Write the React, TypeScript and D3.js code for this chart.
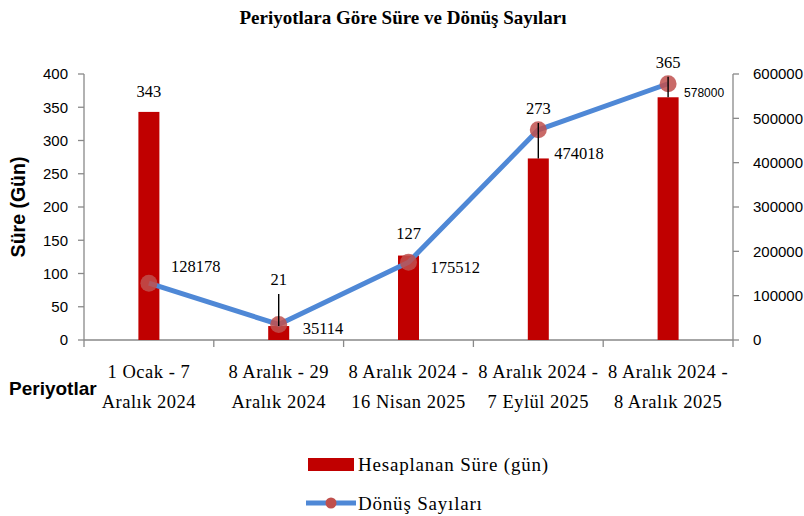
import React from "react";
import * as d3 from "d3";

const categories: string[][] = [
  ["1 Ocak - 7", "Aralık 2024"],
  ["8 Aralık - 29", "Aralık 2024"],
  ["8 Aralık 2024 -", "16 Nisan 2025"],
  ["8 Aralık 2024 -", "7 Eylül 2025"],
  ["8 Aralık 2024 -", "8 Aralık 2025"],
];
const sureValues = [343, 21, 127, 273, 365];
const donusValues = [128178, 35114, 175512, 474018, 578000];
const leftTicks = [0, 50, 100, 150, 200, 250, 300, 350, 400];
const rightTicks = [0, 100000, 200000, 300000, 400000, 500000, 600000];

const W = 804;
const H = 516;
const X0 = 84;
const X1 = 733;
const YT = 74;
const YB = 340;

const serif = "'Liberation Serif', 'DejaVu Serif', serif";
const sans = "'Liberation Sans', 'Open Sans', sans-serif";

export default function App() {
  const x = d3.scaleBand<number>().domain(d3.range(categories.length)).range([X0, X1]);
  const yL = d3.scaleLinear().domain([0, 400]).range([YB, YT]);
  const yR = d3.scaleLinear().domain([0, 600000]).range([YB, YT]);
  const cx = (i: number) => (x(i) as number) + x.bandwidth() / 2;
  const barW = 21;
  const line = d3
    .line<number>()
    .x((_, i) => cx(i))
    .y((d) => yR(d));
  const axisColor = "#898989";

  // label center offsets relative to bar top
  const sureLabelDy = [-21, -47, -22.5, -50.5, -35.5];
  const leaders = [false, true, false, true, true];
  const donusLabelPos = [
    { dx: 22, dy: -17, small: false },
    { dx: 24, dy: 4, small: false },
    { dx: 22, dy: 5, small: false },
    { dx: 16, dy: 23, small: false },
    { dx: 16, dy: 9, small: true },
  ];

  return (
    <svg width={W} height={H} style={{ position: "absolute", left: 0, top: 0, background: "#fff" }}>
      <text x={W / 2 + 1} y={24} textAnchor="middle" fontFamily={serif} fontWeight="bold" fontSize={19} fill="#000">
        Periyotlara Göre Süre ve Dönüş Sayıları
      </text>

      {/* left axis */}
      <line x1={X0} x2={X0} y1={YT} y2={YB} stroke={axisColor} strokeWidth={1.3} />
      {leftTicks.map((t) => (
        <g key={"l" + t}>
          <line x1={X0 - 6} x2={X0} y1={yL(t)} y2={yL(t)} stroke={axisColor} strokeWidth={1.3} />
          <text x={X0 - 16} y={yL(t)} dy="0.35em" textAnchor="end" fontFamily={sans} fontSize={15} fill="#000">
            {t}
          </text>
        </g>
      ))}
      {/* right axis */}
      <line x1={X1} x2={X1} y1={YT} y2={YB} stroke={axisColor} strokeWidth={1.3} />
      {rightTicks.map((t) => (
        <g key={"r" + t}>
          <line x1={X1} x2={X1 + 6} y1={yR(t)} y2={yR(t)} stroke={axisColor} strokeWidth={1.3} />
          <text x={X1 + 20} y={yR(t)} dy="0.35em" textAnchor="start" fontFamily={sans} fontSize={15} fill="#000">
            {t}
          </text>
        </g>
      ))}
      {/* bottom axis */}
      <line x1={X0} x2={X1} y1={YB} y2={YB} stroke={axisColor} strokeWidth={1.3} />
      {d3.range(categories.length + 1).map((i) => {
        const xx = i < categories.length ? (x(i) as number) : X1;
        return <line key={"b" + i} x1={xx} x2={xx} y1={YB} y2={YB + 7} stroke={axisColor} strokeWidth={1.3} />;
      })}

      {/* bars */}
      {sureValues.map((v, i) => (
        <rect key={"bar" + i} x={cx(i) - barW / 2} y={yL(v)} width={barW} height={YB - yL(v)} fill="#C00000" />
      ))}

      {/* line */}
      <path d={line(donusValues) || ""} fill="none" stroke="#4F88D6" strokeWidth={5} strokeLinejoin="round" />
      {donusValues.map((v, i) => (
        <circle key={"pt" + i} cx={cx(i)} cy={yR(v)} r={8.5} fill="#C0504D" fillOpacity={0.85} />
      ))}
      {/* leader lines */}
      {sureValues.map((v, i) =>
        leaders[i] ? (
          <line
            key={"ld" + i}
            x1={cx(i)}
            x2={cx(i)}
            y1={yL(v) + sureLabelDy[i] + 15}
            y2={yL(v)}
            stroke="#000"
            strokeWidth={1.4}
          />
        ) : null
      )}

      {/* bar labels */}
      {sureValues.map((v, i) => (
        <text
          key={"sl" + i}
          x={cx(i)}
          y={yL(v) + sureLabelDy[i]}
          dy="0.35em"
          textAnchor="middle"
          fontFamily={serif}
          fontSize={16.5}
          fill="#000"
        >
          {v}
        </text>
      ))}
      {/* line labels */}
      {donusValues.map((v, i) => (
        <text
          key={"dl" + i}
          x={cx(i) + donusLabelPos[i].dx}
          y={yR(v) + donusLabelPos[i].dy}
          dy="0.35em"
          textAnchor="start"
          fontFamily={donusLabelPos[i].small ? sans : serif}
          fontSize={donusLabelPos[i].small ? 12 : 16.5}
          fill="#000"
        >
          {v}
        </text>
      ))}

      {/* category labels */}
      {categories.map((c, i) => (
        <text key={"c" + i} x={cx(i)} textAnchor="middle" fontFamily={serif} fontSize={18.5} letterSpacing={0.5} fill="#000">
          <tspan x={cx(i)} y={378}>{c[0]}</tspan>
          <tspan x={cx(i)} y={408}>{c[1]}</tspan>
        </text>
      ))}
      <text x={9} y={388} dy="0.35em" fontFamily={sans} fontWeight="bold" fontSize={19} fill="#000">
        Periyotlar
      </text>
      <text
        transform={`translate(18, ${(YT + YB) / 2}) rotate(-90)`}
        dy="0.35em"
        textAnchor="middle"
        fontFamily={sans}
        fontWeight="bold"
        fontSize={19.5}
        fill="#000"
      >
        Süre (Gün)
      </text>

      {/* legend */}
      <rect x={308} y={458} width={46} height={13} fill="#C00000" />
      <text x={358} y={464} dy="0.35em" fontFamily={serif} fontSize={19} letterSpacing={0.8} fill="#000">
        Hesaplanan Süre (gün)
      </text>
      <line x1={306} x2={356} y1={503} y2={503} stroke="#4F88D6" strokeWidth={5} />
      <circle cx={331} cy={503} r={5.5} fill="#C0504D" />
      <text x={358} y={503} dy="0.35em" fontFamily={serif} fontSize={19} letterSpacing={0.8} fill="#000">
        Dönüş Sayıları
      </text>
    </svg>
  );
}
